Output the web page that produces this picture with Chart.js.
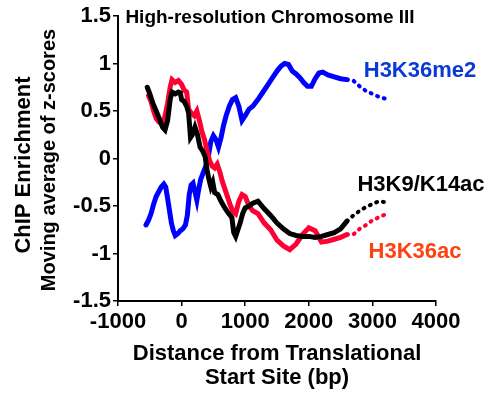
<!DOCTYPE html>
<html lang="en">
<head>
    <meta charset="UTF-8">
    <title>High-resolution Chromosome III</title>
    <script src="https://cdn.jsdelivr.net/npm/chart.js@4"></script>
    <style>
        html, body { margin: 0; padding: 0; background: #fff; }
        .wrap { width: 497px; height: 406px; position: relative; }
    </style>
</head>
<body>
    <div class="wrap"><canvas id="chipChart" width="497" height="406"></canvas></div>
    <script>
        const FONT = '"Liberation Sans", Arial, sans-serif';

        // H3K9/K14ac (black)
        const acX = [-540, -500, -450, -400, -350, -300, -260, -220, -180, -150, -100, -50, -20, 0, 40, 80, 110, 140, 170, 210, 250, 290, 330, 370, 400, 430, 460, 490, 520, 570, 620, 680, 740, 790, 820, 850, 880, 920, 960, 1000, 1060, 1120, 1200, 1300, 1400, 1500, 1600, 1700, 1800, 1900, 2000, 2100, 2200, 2300, 2400, 2500, 2600, 2700, 2800, 2900, 3000, 3100, 3200];
        const acY = [0.75, 0.68, 0.58, 0.5, 0.42, 0.33, 0.3, 0.4, 0.62, 0.7, 0.68, 0.7, 0.69, 0.62, 0.6, 0.55, 0.48, 0.22, 0.25, 0.33, 0.25, 0.12, 0.08, 0.02, -0.12, -0.22, -0.3, -0.25, -0.36, -0.38, -0.45, -0.52, -0.58, -0.62, -0.78, -0.82, -0.76, -0.68, -0.58, -0.52, -0.5, -0.47, -0.45, -0.53, -0.6, -0.68, -0.74, -0.79, -0.81, -0.82, -0.82, -0.83, -0.82, -0.8, -0.78, -0.74, -0.66, -0.6, -0.55, -0.51, -0.48, -0.45, -0.46];

        // H3K36ac (red)
        const k36acX = [-520, -480, -440, -400, -350, -300, -260, -220, -180, -150, -100, -50, 0, 40, 80, 110, 150, 200, 240, 280, 320, 360, 400, 440, 480, 520, 560, 600, 640, 680, 720, 760, 800, 850, 900, 950, 1000, 1060, 1120, 1200, 1300, 1400, 1500, 1600, 1700, 1800, 1900, 2000, 2100, 2200, 2300, 2400, 2500, 2600, 2700, 2800, 2900, 3000, 3100, 3200];
        const k36acY = [0.66, 0.6, 0.5, 0.42, 0.38, 0.36, 0.45, 0.58, 0.75, 0.83, 0.8, 0.82, 0.78, 0.72, 0.7, 0.52, 0.48, 0.45, 0.5, 0.4, 0.28, 0.2, 0.08, -0.02, -0.08, -0.1, -0.06, -0.14, -0.24, -0.32, -0.4, -0.48, -0.55, -0.58, -0.45, -0.38, -0.4, -0.5, -0.55, -0.58, -0.68, -0.75, -0.86, -0.92, -0.96, -0.9, -0.8, -0.73, -0.76, -0.88, -0.87, -0.85, -0.83, -0.8, -0.8, -0.74, -0.7, -0.65, -0.62, -0.59];

        // H3K36me2 (blue)
        const me2X = [-560, -520, -480, -440, -400, -360, -320, -280, -250, -220, -190, -160, -130, -100, -60, -20, 20, 60, 90, 120, 150, 180, 210, 240, 270, 300, 340, 380, 420, 460, 500, 540, 580, 620, 660, 700, 750, 800, 850, 900, 950, 1000, 1060, 1120, 1200, 1280, 1350, 1420, 1500, 1560, 1620, 1680, 1740, 1800, 1860, 1920, 1980, 2040, 2100, 2160, 2220, 2300, 2400, 2500, 2600, 2700, 2800, 2900, 3000, 3100, 3200];
        const me2Y = [-0.7, -0.65, -0.58, -0.48, -0.4, -0.35, -0.3, -0.27, -0.3, -0.42, -0.55, -0.68, -0.76, -0.81, -0.79, -0.76, -0.74, -0.7, -0.6, -0.38, -0.28, -0.26, -0.35, -0.44, -0.32, -0.22, -0.15, -0.08, 0.02, 0.18, 0.24, 0.2, 0.12, 0.22, 0.35, 0.45, 0.55, 0.62, 0.64, 0.55, 0.4, 0.45, 0.52, 0.55, 0.62, 0.7, 0.77, 0.84, 0.92, 0.97, 1.0, 0.99, 0.92, 0.89, 0.85, 0.8, 0.76, 0.76, 0.84, 0.9, 0.91, 0.88, 0.86, 0.84, 0.83, 0.82, 0.76, 0.71, 0.68, 0.65, 0.63];

        const xTicks = [-1000, 0, 1000, 2000, 3000, 4000];
        const yTicks = [-1.5, -1, -0.5, 0, 0.5, 1, 1.5];

        // past this point the dots in the original thin out
        const sparseFrom = 2550;

        function pts(xs, ys) {
            return xs.map((x, i) => ({ x: x, y: ys[i] }));
        }

        function series(label, xs, ys, color, order) {
            return {
                label: label,
                data: pts(xs, ys),
                showLine: true,
                borderColor: color,
                backgroundColor: color,
                borderWidth: 5,
                borderCapStyle: 'round',
                pointRadius: 0,
                tension: 0,
                order: order,
                segment: {
                    borderDash: c => c.p0.parsed.x >= sparseFrom ? [1, 6] : undefined,
                    borderWidth: c => c.p0.parsed.x >= sparseFrom ? 4 : undefined
                }
            };
        }

        // titles and series names drawn as text
        const labelsPlugin = {
            id: 'labels',
            afterDraw(chart) {
                const c = chart.ctx;
                c.save();
                c.textAlign = 'center';
                c.textBaseline = 'middle';

                c.fillStyle = '#000';
                c.font = 'bold 19px ' + FONT;
                c.fillText('High-resolution Chromosome III', 270, 18);

                c.font = 'bold 22px ' + FONT;
                c.fillStyle = '#0a3ad6';
                c.fillText('H3K36me2', 420, 71);
                c.fillStyle = '#000';
                c.fillText('H3K9/K14ac', 421, 185);
                c.fillStyle = '#ff4010';
                c.fillText('H3K36ac', 415, 252);

                c.fillStyle = '#000';
                c.fillText('Distance from Translational', 277, 354);
                c.fillText('Start Site (bp)', 277, 378);

                c.save();
                c.translate(24, 165);
                c.rotate(-Math.PI / 2);
                c.font = 'bold 22px ' + FONT;
                c.fillText('ChIP Enrichment', 0, 0);
                c.restore();

                c.save();
                c.translate(49, 160);
                c.rotate(-Math.PI / 2);
                c.font = 'bold 20px ' + FONT;
                c.fillText('Moving average of z-scores', 0, 0);
                c.restore();

                c.restore();
            }
        };

        const ctx = document.getElementById('chipChart').getContext('2d');
        const chipChart = new Chart(ctx, {
            type: 'scatter',
            data: {
                datasets: [
                    series('H3K9/K14ac', acX, acY, '#000000', 1),
                    series('H3K36ac', k36acX, k36acY, '#ff0033', 2),
                    series('H3K36me2', me2X, me2Y, '#0000ff', 3)
                ]
            },
            options: {
                responsive: false,
                animation: false,
                devicePixelRatio: 1,
                layout: { padding: { top: 16, right: 61, left: 0, bottom: 0 } },
                plugins: {
                    legend: { display: false },
                    tooltip: { enabled: false }
                },
                scales: {
                    x: {
                        type: 'linear',
                        min: -1000,
                        max: 4000,
                        afterFit: s => { s.height = 105; },
                        afterBuildTicks: s => { s.ticks = xTicks.map(v => ({ value: v })); },
                        border: { color: '#000', width: 2 },
                        grid: { drawOnChartArea: false, drawTicks: true, tickLength: 5, color: '#000', lineWidth: 1.5 },
                        ticks: {
                            color: '#000',
                            padding: 3,
                            maxRotation: 0,
                            font: { family: FONT, size: 22, weight: 'bold' },
                            callback: v => String(v)
                        }
                    },
                    y: {
                        type: 'linear',
                        min: -1.5,
                        max: 1.5,
                        afterFit: s => { s.width = 118; },
                        afterBuildTicks: s => { s.ticks = yTicks.map(v => ({ value: v })); },
                        border: { color: '#000', width: 2 },
                        grid: { drawOnChartArea: false, drawTicks: true, tickLength: 5, color: '#000', lineWidth: 1.5 },
                        ticks: {
                            color: '#000',
                            padding: 2,
                            font: { family: FONT, size: 22, weight: 'bold' },
                            callback: v => String(v)
                        }
                    }
                }
            },
            plugins: [labelsPlugin]
        });
    </script>
</body>
</html>
